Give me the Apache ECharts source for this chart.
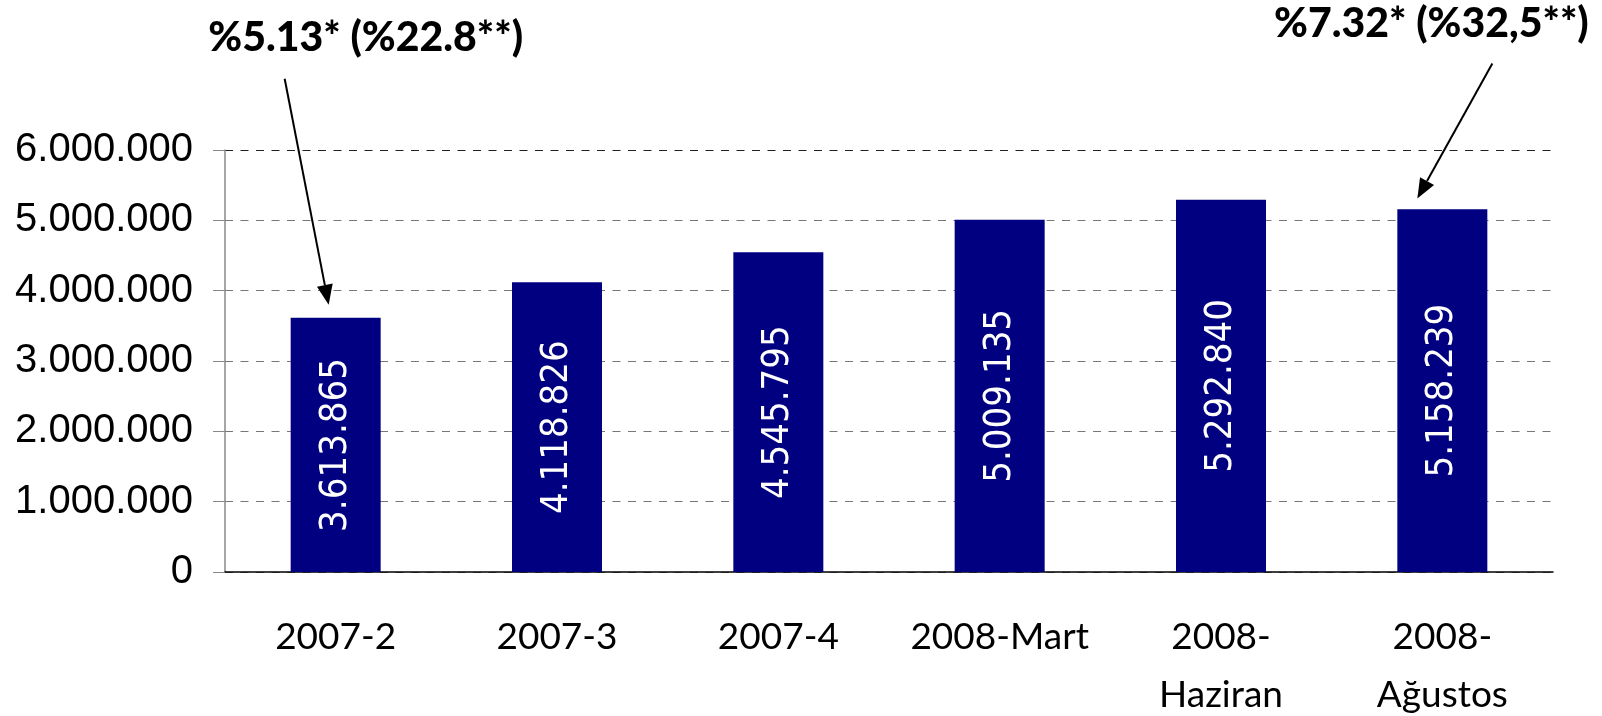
<!DOCTYPE html>
<html>
<head>
<meta charset="utf-8">
<script src="https://cdn.jsdelivr.net/npm/echarts@6/dist/echarts.min.js"></script>
<style>
  html, body { margin: 0; padding: 0; background: #fff; }
  #main { width: 1602px; height: 716px; }
</style>
</head>
<body>
<div id="main"></div>
<script>
// kategoriler ve degerler
var categories = ['2007-2', '2007-3', '2007-4', '2008-Mart', '2008-\nHaziran', '2008-\nAğustos'];
var values = [3613865, 4118826, 4545795, 5009135, 5292840, 5158239];
var yMin = 0, yMax = 6000000, yStep = 1000000;

// oklu notlar: metin, hangi cubuk, okun ucunun degeri
var noteTexts = ['%5.13* (%22.8**)', '%7.32* (%32,5**)'];
var noteBars = [0, 5];
var noteTipValues = [3800000, 5310000];

function dots(v) {
  return String(v).replace(/\B(?=(\d{3})+(?!\d))/g, '.');
}

var chart = echarts.init(document.getElementById('main'));

var option = {
  animation: false,
  grid: { left: 225, right: 49, top: 150, bottom: 144, outerBoundsMode: 'none', containLabel: false },
  xAxis: {
    type: 'category',
    data: categories,
    axisLine: { lineStyle: { color: '#000', width: 1.5 } },
    axisTick: { length: 14, lineStyle: { color: '#777', width: 1.5 } },
    axisLabel: {
      color: '#000',
      fontFamily: 'Lato',
      fontSize: 37,
      lineHeight: 58,
      margin: 36,
      interval: 0
    }
  },
  yAxis: {
    type: 'value',
    min: yMin,
    max: yMax,
    interval: yStep,
    axisLine: { show: true, lineStyle: { color: '#888', width: 1.5 } },
    axisTick: { show: true, length: 12, lineStyle: { color: '#888' } },
    splitLine: {
      lineStyle: {
        color: ['#777', '#777', '#777', '#777', '#777', '#777', '#222'],
        type: [8, 7.5],
        width: 1
      }
    },
    axisLabel: {
      color: '#000',
      fontFamily: 'Liberation Sans',
      fontSize: 40,
      margin: 32,
      formatter: function (v) { return dots(v); }
    }
  },
  series: [{
    type: 'bar',
    data: values,
    barWidth: 90,
    itemStyle: { color: '#000080' },
    label: {
      show: true,
      position: 'inside',
      rotate: 90,
      color: '#fff',
      fontFamily: "'DejaVu Sans Condensed', 'DejaVu Sans'",
      fontSize: 38,
      formatter: function (p) { return dots(p.value); }
    }
  }]
};

chart.setOption(option);

// ok ve notlar
var noteOffsets = [
  { tipDx: -7, startDx: -44, startDy: -226, textDx: 37, textDy: -267 },
  { tipDx: -25, startDx: 75, startDy: -135, textDx: 14, textDy: -175 }
];
var graphics = [];
noteTexts.forEach(function (t, i) {
  var tip = chart.convertToPixel({ gridIndex: 0 }, [noteBars[i], noteTipValues[i]]);
  var o = noteOffsets[i];
  var tx = tip[0] + o.tipDx, ty = tip[1];
  var sx = tx + o.startDx, sy = ty + o.startDy;
  var ang = Math.atan2(ty - sy, tx - sx);
  var L = 20, W = 8;
  var bx = tx - L * Math.cos(ang), by = ty - L * Math.sin(ang);
  var px = -Math.sin(ang) * W, py = Math.cos(ang) * W;
  graphics.push({
    type: 'line',
    shape: { x1: sx, y1: sy, x2: bx, y2: by },
    style: { stroke: '#000', lineWidth: 2 }
  });
  graphics.push({
    type: 'polygon',
    shape: { points: [[tx, ty], [bx + px, by + py], [bx - px, by - py]] },
    style: { fill: '#000' }
  });
  graphics.push({
    type: 'text',
    x: tx + o.textDx,
    y: ty + o.textDy,
    style: {
      text: t,
      fill: '#000',
      font: '900 41px Lato',
      align: 'center',
      verticalAlign: 'middle'
    }
  });
});
chart.setOption({ graphic: graphics });
</script>
</body>
</html>
